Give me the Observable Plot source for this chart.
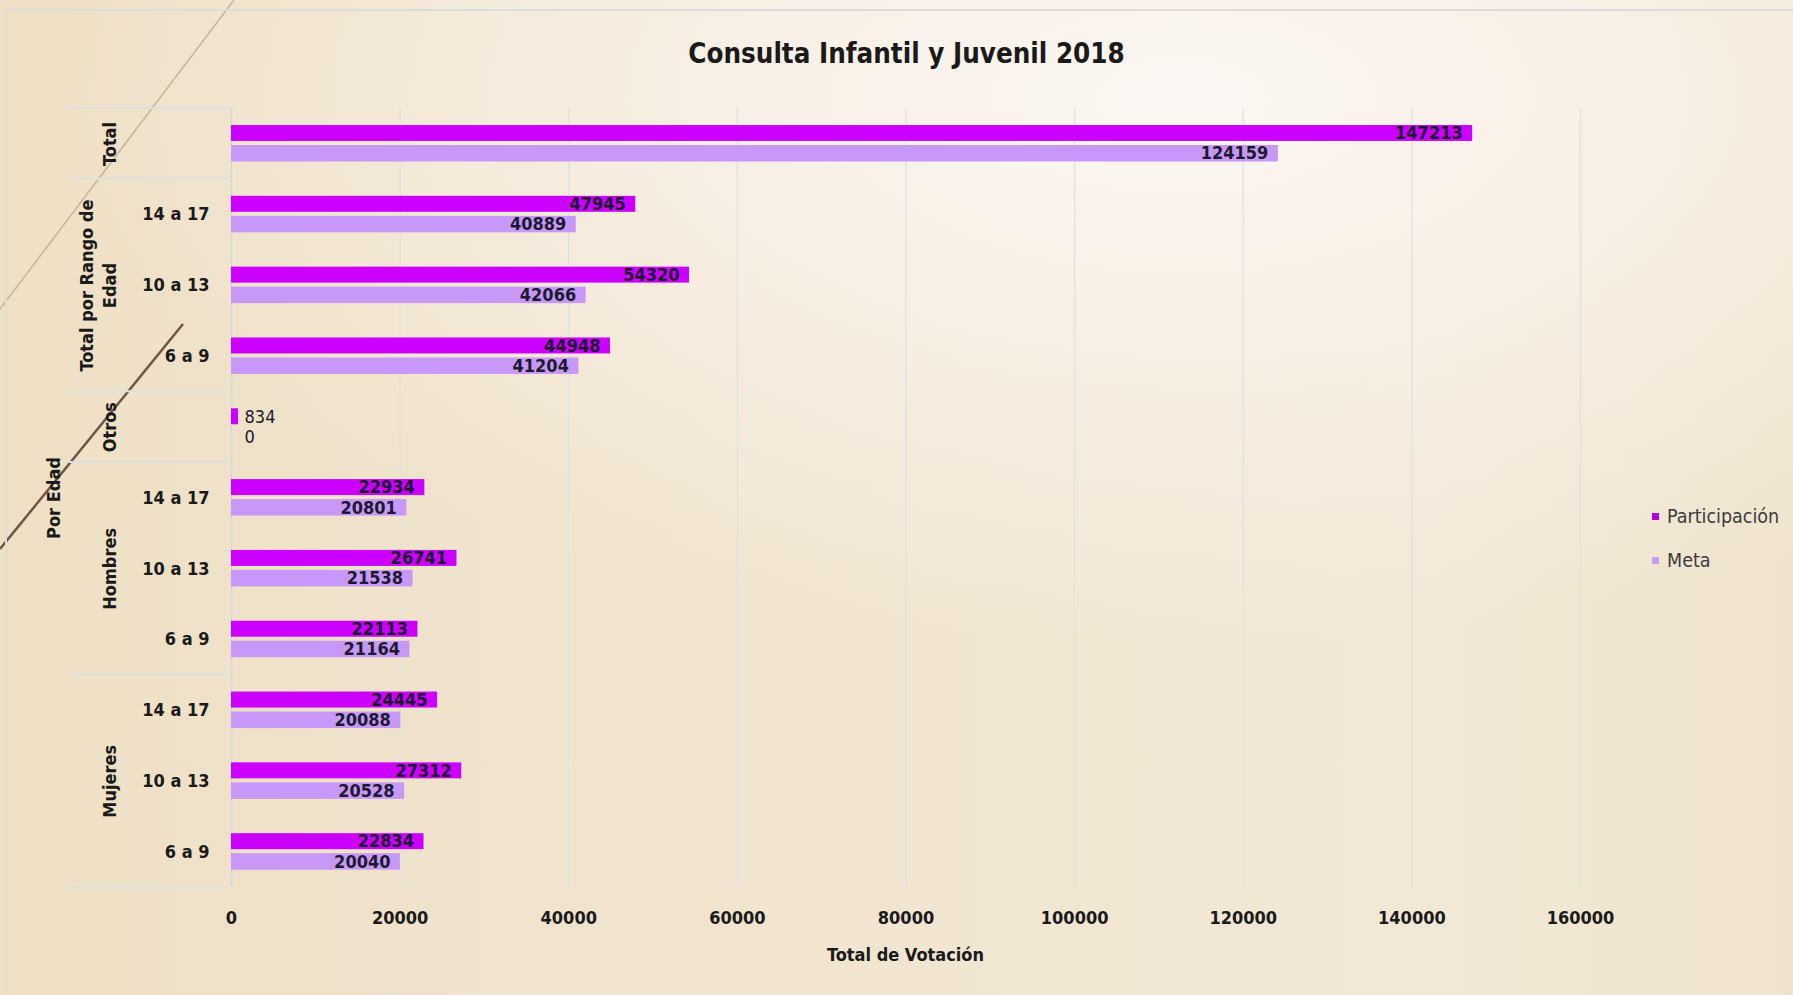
<!DOCTYPE html>
<html>
<head>
<meta charset="utf-8">
<script src="https://cdn.jsdelivr.net/npm/d3@7"></script>
<script src="https://cdn.jsdelivr.net/npm/@observablehq/plot@0.6"></script>
<style>
  html, body { margin: 0; padding: 0; }
  body {
    width: 1793px; height: 995px; overflow: hidden;
    background:
      radial-gradient(ellipse 62% 55% at 66% 10%, #fcf7f3 0%, #f8f0e6 38%, rgba(240,227,204,0) 100%),
      linear-gradient(90deg, #efe0c5 0%, #f1e5d0 45%, #f2e8d6 80%, #efe3cb 100%);
    font-family: "DejaVu Sans Condensed", "DejaVu Sans", sans-serif;
  }
  #wrap { position: relative; width: 1793px; height: 995px; }
  #deco { position: absolute; left: 0; top: 0; }
  #frame { position: absolute; left: 5px; top: 9px; width: 1788px; height: 986px;
           border-top: 2px solid #dcdcdc; border-left: 2px solid #dcdcdc; box-sizing: border-box; }
  #chart { position: absolute; left: 0; top: 0; }
  #title { position: absolute; left: 0; width: 1813px; top: 37px; text-align: center;
           font-weight: bold; font-size: 27.5px; color: #1a1a1a; }
  .leg { position: absolute; left: 1652px; font-size: 19.5px; color: #3c3c3c; line-height: 24px; }
  .leg span { display: inline-block; width: 7px; height: 7px; margin-right: 8px; vertical-align: 3px; }
  #xlabel { position: absolute; left: 231px; width: 1349px; top: 944px; text-align: center;
            font-weight: bold; font-size: 18px; color: #1a1a1a; }
</style>
</head>
<body>
<div id="wrap">
  <svg id="deco" width="1793" height="995">
    <line x1="234" y1="0" x2="0" y2="309" stroke="#c9b496" stroke-width="1.5"/>
    <line x1="183" y1="324" x2="0" y2="549" stroke="#6e5545" stroke-width="2.5"/>
  </svg>
  <div id="frame"></div>
  <div id="chart"></div>
  <div id="title">Consulta Infantil y Juvenil 2018</div>
  <div class="leg" style="top:505px"><span style="background:#b000e0"></span>Participación</div>
  <div class="leg" style="top:549px"><span style="background:#c4a0f2"></span>Meta</div>
  <div id="xlabel">Total de Votación</div>
</div>
<script>
// ---- data ----
const grupos = ["Total", "Total por Rango de Edad", "Total por Rango de Edad", "Total por Rango de Edad",
                "Otros", "Hombres", "Hombres", "Hombres", "Mujeres", "Mujeres", "Mujeres"];
const rangos = ["", "14 a 17", "10 a 13", "6 a 9", "", "14 a 17", "10 a 13", "6 a 9", "14 a 17", "10 a 13", "6 a 9"];
const participacion = [147213, 47945, 54320, 44948, 834, 22934, 26741, 22113, 24445, 27312, 22834];
const meta = [124159, 40889, 42066, 41204, 0, 20801, 21538, 21164, 20088, 20528, 20040];
const grupoEtiquetas = ["Total", "Total por Rango de\nEdad", "Otros", "Hombres", "Mujeres"];
const superGrupo = "Por Edad";
const xTicks = [0, 20000, 40000, 60000, 80000, 100000, 120000, 140000, 160000];

// ---- table ----
const keys = grupos.map((g, i) => g + "|" + rangos[i]);
const rows = keys.map((k, i) => ({key: k, grupo: grupos[i], rango: rangos[i],
                                  participacion: participacion[i], meta: meta[i]}));
const gruposUnicos = [...new Set(grupos)];
const grupoRows = gruposUnicos.map((g, j) => {
  const idx = grupos.map((x, i) => x === g ? i : -1).filter(i => i >= 0);
  return {key: keys[idx[Math.floor(idx.length / 2)]], label: grupoEtiquetas[j]};
});
const superRow = [{key: keys[Math.floor(keys.length / 2)], label: superGrupo}];

const W = 1793, H = 995, MT = 108, MB = 108, ML = 231, MR = 213;
const step = (H - MT - MB) / keys.length;
const font = '"DejaVu Sans Condensed", "DejaVu Sans", sans-serif';
const colP = "#cc00ff", colM = "#c898f8", ink = "#1c1a30";
const SMALL = 5000;

const plot = Plot.plot({
  width: W, height: H,
  marginTop: MT, marginBottom: MB, marginLeft: ML, marginRight: MR,
  style: {background: "transparent", fontFamily: font, overflow: "visible"},
  x: {domain: [0, 160000]},
  y: {domain: keys, padding: 0, round: false, axis: null},
  marks: [
    Plot.gridX(xTicks, {stroke: "#e2e2e2", strokeOpacity: 1, strokeWidth: 1.4}),
    Plot.axisX(xTicks, {tickSize: 0, tickPadding: 24, tickFormat: d => String(d),
                        fontSize: 18, fontWeight: "bold", fill: "#1a1a1a", label: null}),
    Plot.ruleX([0], {stroke: "#d6d6d6", strokeWidth: 1.4}),
    Plot.barX(rows, {y: "key", x: "participacion", fill: colP, insetTop: 17, insetBottom: step - 33}),
    Plot.barX(rows, {y: "key", x: "meta", fill: colM, insetTop: 37, insetBottom: step - 53.5}),
    // value labels, inside end
    Plot.text(rows.filter(d => d.participacion >= SMALL), {y: "key", x: "participacion",
      text: d => String(d.participacion), textAnchor: "end", dx: -10, dy: -10.4,
      fontSize: 18, fontWeight: "bold", fill: ink}),
    Plot.text(rows.filter(d => d.meta >= SMALL), {y: "key", x: "meta",
      text: d => String(d.meta), textAnchor: "end", dx: -10, dy: 9.8,
      fontSize: 18, fontWeight: "bold", fill: ink}),
    // value labels, outside for tiny bars
    Plot.text(rows.filter(d => d.participacion < SMALL), {y: "key", x: "participacion",
      text: d => String(d.participacion), textAnchor: "start", dx: 6, dy: -10.4,
      fontSize: 18, fill: ink}),
    Plot.text(rows.filter(d => d.meta < SMALL), {y: "key", x: "meta",
      text: d => String(d.meta), textAnchor: "start", dx: 13, dy: 9.8,
      fontSize: 18, fill: ink}),
    // category labels
    Plot.text(rows.filter(d => d.rango), {y: "key", text: "rango", frameAnchor: "left",
      textAnchor: "end", dx: -22, fontSize: 18, fontWeight: "bold", fill: "#1a1a1a"}),
    Plot.text(grupoRows, {y: "key", text: "label", frameAnchor: "left", rotate: -90,
      lineAnchor: "bottom", textAnchor: "middle", dx: -116, fontSize: 18, fontWeight: "bold",
      fill: "#1a1a1a", lineHeight: 1.25}),
    Plot.text(superRow, {y: "key", text: "label", frameAnchor: "left", rotate: -90,
      lineAnchor: "bottom", textAnchor: "middle", dx: -172, fontSize: 18,
      fontWeight: "bold", fill: "#1a1a1a"})
  ]
});
document.getElementById("chart").appendChild(plot);

// group separators in the left margin, placed with the y scale
const ys = plot.scale("y");
const bounds = [];
grupos.forEach((g, i) => { if (i === 0 || grupos[i - 1] !== g) bounds.push(ys.apply(keys[i])); });
bounds.push(ys.apply(keys[keys.length - 1]) + ys.bandwidth);
d3.select(plot).append("g").selectAll("line").data(bounds).join("line")
  .attr("x1", 69).attr("x2", ML - 2)
  .attr("y1", d => d).attr("y2", d => d)
  .attr("stroke", "#e0e0e0").attr("stroke-width", 2);
</script>
</body>
</html>
